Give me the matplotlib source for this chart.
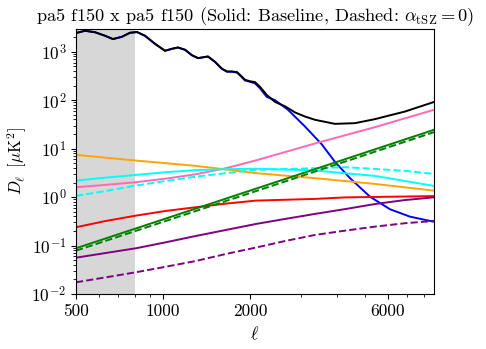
import numpy as np
import matplotlib
matplotlib.use("Agg")
import matplotlib.pyplot as plt

plt.rcParams['font.family'] = 'serif'
plt.rcParams['font.serif'] = ['cmr10']
plt.rcParams['mathtext.fontset'] = 'cm'
plt.rcParams['axes.unicode_minus'] = False
plt.rcParams['axes.formatter.use_mathtext'] = True

# values (ell, D_ell in muK^2)
ell_tot = [500, 537, 582, 630, 671, 721, 769, 813, 866, 938, 1016, 1074, 1127,
           1192, 1260, 1322, 1375, 1431, 1513, 1600, 1665, 1733, 1803, 1862,
           1922, 2000, 2081, 2166, 2285, 2442, 2644, 2863, 3100, 3358, 3936,
           4617, 5415, 6877, 8665]
d_tot = [2434, 2716, 2529, 2141, 1830, 2041, 2469, 2553, 2141, 1463, 1049, 1153,
         1227, 1100, 847, 741, 770, 800, 621, 446, 392, 392, 381, 319, 264,
         246, 237, 189, 129, 92, 75, 56, 46, 39.4, 32.5, 33.6, 40.7, 58.4, 92]

ell_cmb = [500, 537, 582, 630, 671, 721, 769, 813, 866, 938, 1016, 1074, 1127,
           1192, 1260, 1322, 1375, 1431, 1513, 1600, 1665, 1733, 1803, 1862,
           1922, 2000, 2081, 2166, 2285, 2442, 2707, 3100, 3542, 3936, 4437,
           5203, 6102, 7155, 8665]
d_cmb = [2430, 2712, 2525, 2137, 1826, 2037, 2465, 2549, 2137, 1459, 1045, 1149,
         1223, 1096, 843, 737, 766, 796, 617, 442, 388, 386, 372, 310, 255,
         240, 223, 176, 117.5, 100, 63.4, 28.6, 12.3, 5.34, 2.46, 1.02, 0.562,
         0.395, 0.31]

ell_grid = [500, 635, 806, 1024, 1301, 1652, 2098, 3358, 5415, 8665]
d_cib = [1.60, 1.79, 2.03, 2.41, 2.97, 3.95, 5.73, 12.8, 27.8, 63.4]
d_cyan = [2.19, 2.53, 2.87, 3.27, 3.60, 3.77, 3.85, 3.53, 2.74, 1.70]

ell_cyan_dash = [500, 635, 806, 1024, 1301, 1652, 2098, 3358, 4263, 5415,
                 6877, 8665]
d_cyan_dash = [1.06, 1.34, 1.73, 2.16, 2.65, 3.12, 3.65, 3.95, 4.15, 3.82,
               3.48, 3.01]

ell_orange = [500, 806, 1301, 2098, 3358, 5415, 8665]
d_orange = [7.44, 5.68, 4.41, 3.12, 2.46, 1.87, 1.36]

ell_red = [500, 635, 806, 1024, 1301, 1652, 2098, 3358, 4263, 8665]
d_red = [0.239, 0.322, 0.415, 0.519, 0.618, 0.734, 0.847, 0.918, 0.986, 1.05]

ell_green = [500, 2000, 8665]
d_green = [0.0879, 1.36, 24.5]
d_green_dash = [0.0784, 1.21, 21.9]

ell_purple = [500, 635, 806, 1024, 1301, 1652, 2098, 2644, 3358, 4263, 5415,
              6877, 8665]
d_purple = [0.0562, 0.0703, 0.0879, 0.117, 0.158, 0.210, 0.279, 0.354, 0.450,
            0.565, 0.72, 0.87, 0.99]

ell_purple_dash = [500, 635, 806, 1024, 1301, 1652, 2081, 2644, 3358, 4263,
                   5415, 6877, 8665]
d_purple_dash = [0.01745, 0.0221, 0.0281, 0.0366, 0.0481, 0.0671, 0.090,
                 0.124, 0.1656, 0.203, 0.2457, 0.289, 0.322]

lmin_cut = 800

fig = plt.figure(figsize=(4.86, 3.49), dpi=100)
ax = fig.add_axes([0.1564, 0.1576, 0.7366, 0.7593])

ax.axvspan(500, lmin_cut, color='lightgray', alpha=0.9, lw=0, zorder=0)

lw = 1.4
ax.plot(ell_cmb, d_cmb, color='blue', lw=lw)
ax.plot(ell_tot, d_tot, color='black', lw=lw)
ax.plot(ell_grid, d_cib, color='hotpink', lw=lw)
ax.plot(ell_orange, d_orange, color='orange', lw=lw)
ax.plot(ell_grid, d_cyan, color='cyan', lw=lw)
ax.plot(ell_cyan_dash, d_cyan_dash, color='cyan', lw=lw, ls='--')
ax.plot(ell_red, d_red, color='red', lw=lw)
ax.plot(ell_green, d_green, color='green', lw=lw)
ax.plot(ell_green, d_green_dash, color='green', lw=lw, ls='--')
ax.plot(ell_purple, d_purple, color='purple', lw=lw)
ax.plot(ell_purple_dash, d_purple_dash, color='purple', lw=lw, ls='--')

ax.set_xscale('log')
ax.set_yscale('log')
ax.set_xlim(500, 8665)
ax.set_ylim(1e-2, 2950)
ax.set_xticks([500, 1000, 2000, 6000])
ax.set_xticklabels(['500', '1000', '2000', '6000'])
ax.tick_params(labelsize=12.5)

ax.set_xlabel(r'$\ell$', fontsize=13)
ax.set_ylabel(r'$D_\ell\;\;[\mu{\rm K}^2]$', fontsize=12)
ax.yaxis.set_label_coords(-0.131, 0.5)
ax.set_title(r'pa5 f150 x pa5 f150 (Solid: Baseline, Dashed: $\alpha_{\rm tSZ}=0$)',
             fontsize=13.2)

fig.savefig('out.png', dpi=100)
